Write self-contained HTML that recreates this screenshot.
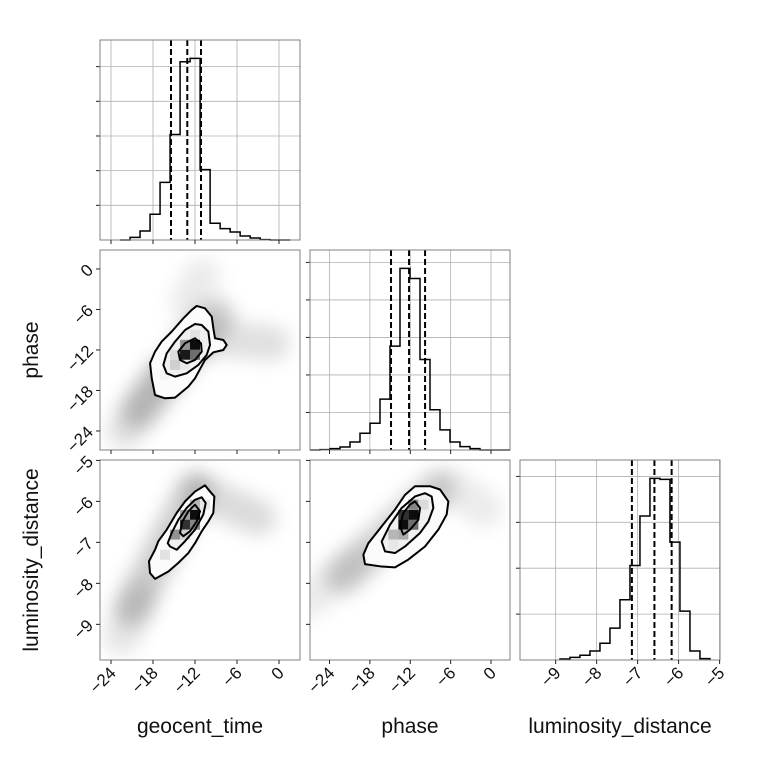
<!DOCTYPE html>
<html><head><meta charset="utf-8"><style>
html,body{margin:0;padding:0;background:#fff;}
svg{display:block;font-family:"Liberation Sans","DejaVu Sans",sans-serif;}
</style></head><body>
<svg id="c" width="760" height="760" viewBox="0 0 760 760">
<defs><filter id="bl" x="-50%" y="-50%" width="200%" height="200%"><feGaussianBlur stdDeviation="9"/></filter></defs>
</svg>
<script>
// ranges
const geoRange=[-25.57,3.0];
const phaseRange=[-26.9,2.82];
const phaseYRange=[-26.82,2.81];
const lumRange=[-9.87,-4.99];
// tick labels
const geoTicks=[-24,-18,-12,-6,0];
const phaseTicks=[-24,-18,-12,-6,0];
const lumTicks=[-9,-8,-7,-6,-5];
// 1D histograms
const geoStart=-22.71, geoWidth=1.43;
const geoCounts=[0,8,27,77,172,315,532,542,210,50,34,24,12,6,1,0,0];
const phaseStart=-26.9, phaseWidth=1.486;
const phaseCounts=[0,1,4,9,24,50,80,152,310,542,512,270,120,60,24,10,4,0,0,0];
const lumStart=-8.895, lumWidth=0.244;
const lumCounts=[3,8,14,27,50,95,180,282,430,542,539,352,146,27,4];
const histMax=597;
const geoQuant=[-15.43,-13.1,-11.14];
const phaseQuant=[-14.86,-12.18,-9.8];
const lumQuant=[-7.14,-6.59,-6.17];
// 2D contours (data coords)
const gpOuterX=[-11.76,-10.57,-9.61,-9.38,-9.14,-7.95,-7.47,-7.95,-9.38,-10.57,-12.0,-12.95,-14.85,-16.28,-17.71,-18.18,-18.42,-17.71,-16.76,-15.33,-13.66,-12.47];
const gpOuterY=[-5.48,-5.83,-7.06,-8.79,-10.27,-10.52,-11.26,-12.0,-12.35,-13.48,-16.2,-17.43,-19.06,-19.16,-18.67,-16.2,-13.97,-12.25,-10.76,-9.28,-7.31,-6.07];
const gpMidX=[-12.0,-11.04,-10.09,-9.85,-10.33,-11.52,-13.19,-14.85,-16.04,-16.52,-16.04,-14.85,-13.42];
const gpMidY=[-8.15,-8.30,-9.28,-11.26,-12.74,-14.22,-15.46,-15.95,-15.46,-14.22,-12.49,-10.76,-9.04];
const gpInX=[-12.0,-11.14,-11.04,-12.0,-13.19,-14.14,-14.38,-13.42];
const gpInY=[-10.27,-11.01,-12.25,-13.48,-13.97,-13.48,-12.25,-11.01];
const glOuterX=[-10.57,-9.85,-9.23,-9.38,-10.09,-11.04,-12.0,-12.95,-14.38,-15.80,-17.71,-18.42,-18.57,-17.71,-17.23,-16.04,-14.61,-13.42,-12.0];
const glOuterY=[-5.61,-5.76,-5.88,-6.28,-6.49,-6.73,-7.02,-7.26,-7.50,-7.71,-7.89,-7.75,-7.46,-7.18,-6.97,-6.69,-6.28,-6.0,-5.76];
const glMidX=[-11.04,-10.47,-10.81,-12.0,-13.42,-14.61,-15.57,-15.90,-15.33,-14.38,-13.19,-12.0];
const glMidY=[-5.90,-6.04,-6.32,-6.69,-6.97,-7.18,-7.10,-7.02,-6.77,-6.45,-6.16,-5.96];
const glInX=[-12.0,-11.28,-11.76,-12.71,-13.66,-14.14,-13.80,-12.95];
const glInY=[-6.08,-6.24,-6.49,-6.73,-6.85,-6.77,-6.49,-6.24];
const plOuterX=[-11.30,-9.07,-7.58,-6.34,-6.59,-7.83,-9.81,-12.29,-14.27,-16.25,-18.73,-18.97,-18.23,-16.25,-14.27,-12.78];
const plOuterY=[-5.63,-5.63,-5.71,-6.0,-6.32,-6.69,-7.10,-7.42,-7.61,-7.59,-7.53,-7.30,-7.02,-6.61,-6.20,-5.84];
const plMidX=[-9.81,-8.82,-8.57,-9.31,-10.55,-12.78,-14.27,-15.75,-16.25,-15.01,-13.28,-11.30];
const plMidY=[-5.80,-5.88,-6.16,-6.49,-6.77,-7.10,-7.26,-7.22,-6.98,-6.57,-6.16,-5.88];
const plInX=[-11.30,-10.55,-10.80,-12.04,-13.03,-13.52,-13.03,-12.04];
const plInY=[-6.0,-6.16,-6.45,-6.69,-6.81,-6.61,-6.28,-6.08];
// 2D histogram peak cells: centre x, centre y, darkness
const gpCellX=[-12.0,-13.42,-12.0,-14.85,-13.42,-12.0,-14.85,-13.42,-16.28];
const gpCellY=[-9.76,-11.24,-11.24,-12.72,-12.72,-12.72,-14.2,-14.2,-15.68];
const gpCellV=[0.12,0.45,1.0,0.15,0.95,0.6,0.2,0.1,0.05];
const glCellX=[-12.0,-10.57,-12.0,-13.42,-13.42,-12.0,-14.85,-13.42,-16.28];
const glCellY=[-6.08,-6.08,-6.33,-6.33,-6.57,-6.57,-6.81,-6.81,-7.30];
const glCellV=[0.3,0.1,1.0,0.4,0.85,0.5,0.45,0.2,0.12];
const plCellX=[-11.54,-10.05,-11.54,-13.03,-13.03,-11.54,-14.52,-13.03,-14.52];
const plCellY=[-6.08,-6.08,-6.33,-6.33,-6.57,-6.57,-6.81,-6.81,-7.06];
const plCellV=[0.5,0.15,1.0,0.85,1.0,0.6,0.3,0.35,0.1];
// scatter cloud density bands: x1,y1,x2,y2 (data), and relative density
const gpCloudX1=[-20,-12,-13,-22], gpCloudY1=[-21,-10,-5,-24], gpCloudX2=[-9,-1,-11,-17], gpCloudY2=[-7,-11,-1,-16], gpCloudD=[0.2,0.12,0.08,0.12];
const glCloudX1=[-21,-11,-22.5], glCloudY1=[-8.6,-5.8,-9.3], glCloudX2=[-12,-3,-20], glCloudY2=[-5.7,-6.4,-8.4], glCloudD=[0.2,0.14,0.1];
const plCloudX1=[-22,-27,-6], plCloudY1=[-7.8,-8.4,-5.6], plCloudX2=[-8,-20,-1], plCloudY2=[-5.7,-7.5,-6.2], plCloudD=[0.18,0.08,0.08];

const svg=document.getElementById('c');
const NS='http://www.w3.org/2000/svg';
function mk(tag,attrs,parent){const e=document.createElementNS(NS,tag);for(const k in attrs)e.setAttribute(k,attrs[k]);(parent||svg).appendChild(e);return e;}
function scale(r,p0,p1){return v=>p0+(v-r[0])/(r[1]-r[0])*(p1-p0);}
const S=200;
function fmt(v){return v<0?'\u2212'+Math.abs(v):String(v);}

function frame(x0,y0,name){
  const r=mk('rect',{x:x0,y:y0,width:S,height:S,fill:'none',stroke:'#808080','stroke-width':1});
  
  
}
function xticks(x0,y0,range,ticks,labels,name){
  const sx=scale(range,x0,x0+S);
  ticks.forEach(t=>{
    const X=sx(t);
    const l=mk('line',{x1:X,x2:X,y1:y0+S,y2:y0+S+4,stroke:'#222','stroke-width':1});
    
    
    if(labels){
      const ax=X+6, ay=y0+S+14;
      const tx=mk('text',{x:ax,y:ay,'font-size':17,'text-anchor':'end',fill:'#111',transform:`rotate(-45 ${ax} ${ay})`});
      tx.textContent=fmt(t);
      
      
    }
  });
}
function yticks(x0,y0,range,ticks,labels,name){
  const sy=scale(range,y0+S,y0);
  ticks.forEach(t=>{
    const Y=sy(t);
    const l=mk('line',{x1:x0-4,x2:x0,y1:Y,y2:Y,stroke:'#222','stroke-width':1});
    
    
    if(labels){
      const ax=x0-10, ay=Y+4;
      const tx=mk('text',{x:ax,y:ay,'font-size':17,'text-anchor':'end',fill:'#111',transform:`rotate(-45 ${ax} ${Y-2})`});
      tx.textContent=fmt(t);
      
      
    }
  });
}
function hist(x0,y0,range,start,width,counts,quant,gridStep,xt,name){
  const sx=scale(range,x0,x0+S), sy=scale([0,histMax],y0+S,y0);
  const g=mk('g',{});
  
  
  xt.forEach(t=>{const X=sx(t);mk('line',{x1:X,x2:X,y1:y0,y2:y0+S,stroke:'#b0b0b0','stroke-width':0.8},g);});
  for(let v=gridStep;v<histMax;v+=gridStep){const Y=sy(v);
    mk('line',{x1:x0,x2:x0+S,y1:Y,y2:Y,stroke:'#b0b0b0','stroke-width':0.8},g);
    const l=mk('line',{x1:x0-4,x2:x0,y1:Y,y2:Y,stroke:'#222','stroke-width':1},g);
    
    
  }
  let d=`M${sx(start)},${sy(0)}`;
  counts.forEach((c,i)=>{const a=sx(start+i*width),b=sx(start+(i+1)*width);d+=` L${a},${sy(c)} L${b},${sy(c)}`;});
  d+=` L${sx(start+counts.length*width)},${sy(0)}`;
  const p=mk('path',{d:d,fill:'none',stroke:'#000','stroke-width':1.5},g);
  
  
  quant.forEach(q=>{const X=sx(q);
    const l=mk('line',{x1:X,x2:X,y1:y0,y2:y0+S,stroke:'#000','stroke-width':2,'stroke-dasharray':'6,3'},g);
    
    
  });
  frame(x0,y0,name+'-hist');
}
function poly(xs,ys,sx,sy){return xs.map((x,i)=>`${sx(x)},${sy(ys[i])}`).join(' ');}
function panel2d(x0,y0,rx,ry,cloud,cont,cells,name){
  const sx=scale(rx,x0,x0+S), sy=scale(ry,y0+S,y0);
  const g=mk('g',{});
  
  
  const cp=mk('clipPath',{id:'cp-'+name},g);
  mk('rect',{x:x0,y:y0,width:S,height:S},cp);
  const inner=mk('g',{'clip-path':`url(#cp-${name})`},g);
  const cg=mk('g',{filter:'url(#bl)'},inner);
  
  
  cloud[0].forEach((x1,i)=>{
    mk('line',{x1:sx(x1),y1:sy(cloud[1][i]),x2:sx(cloud[2][i]),y2:sy(cloud[3][i]),stroke:'#000','stroke-opacity':cloud[4][i],'stroke-width':36,'stroke-linecap':'round'},cg);
  });
  const fills=['#fbfbfb','#f0f0f0','#dcdcdc'];
  cont.forEach((c,i)=>{mk('polygon',{points:poly(c[0],c[1],sx,sy),fill:fills[i],stroke:'none'},inner);});
  const cw=10;
  cells[0].forEach((x,i)=>{const v=cells[2][i];const gv=Math.round(255*(1-v*0.95));
    const r=mk('rect',{x:sx(x)-cw/2,y:sy(cells[1][i])-cw/2,width:cw,height:cw,fill:`rgb(${gv},${gv},${gv})`},inner);
    
    
  });
  cont.forEach((c,i)=>{const p=mk('polygon',{points:poly(c[0],c[1],sx,sy),fill:'none',stroke:'#000','stroke-width':2,'stroke-linejoin':'round'},inner);
    
    
  });
  frame(x0,y0,name);
}
hist(100,40,geoRange,geoStart,geoWidth,geoCounts,geoQuant,103.5,geoTicks,'geocent-time');
xticks(100,40,geoRange,geoTicks,false,'geocent-time-hist');
hist(310,250,phaseRange,phaseStart,phaseWidth,phaseCounts,phaseQuant,112,phaseTicks,'phase');
xticks(310,250,phaseRange,phaseTicks,false,'phase-hist');
hist(520,460,lumRange,lumStart,lumWidth,lumCounts,lumQuant,137,lumTicks,'luminosity-distance');
xticks(520,460,lumRange,lumTicks,true,'luminosity-distance');
panel2d(100,250,geoRange,phaseYRange,[gpCloudX1,gpCloudY1,gpCloudX2,gpCloudY2,gpCloudD],[[gpOuterX,gpOuterY],[gpMidX,gpMidY],[gpInX,gpInY]],[gpCellX,gpCellY,gpCellV],'geocent-phase');
xticks(100,250,geoRange,geoTicks,false,'geocent-phase');
yticks(100,250,phaseYRange,phaseTicks,true,'phase');
panel2d(100,460,geoRange,lumRange,[glCloudX1,glCloudY1,glCloudX2,glCloudY2,glCloudD],[[glOuterX,glOuterY],[glMidX,glMidY],[glInX,glInY]],[glCellX,glCellY,glCellV],'geocent-lum');
xticks(100,460,geoRange,geoTicks,true,'geocent-time');
yticks(100,460,lumRange,lumTicks,true,'luminosity-distance');
panel2d(310,460,phaseRange,lumRange,[plCloudX1,plCloudY1,plCloudX2,plCloudY2,plCloudD],[[plOuterX,plOuterY],[plMidX,plMidY],[plInX,plInY]],[plCellX,plCellY,plCellV],'phase-lum');
xticks(310,460,phaseRange,phaseTicks,true,'phase');
yticks(310,460,lumRange,lumTicks,false,'phase-lum');
</script>
<div style="position:absolute;left:0;top:0;width:760px;height:760px;pointer-events:none;font-family:'Liberation Sans',sans-serif;font-size:21px;color:#111;">
<div style="position:absolute;left:80px;width:240px;top:715px;text-align:center;">geocent_time</div>
<div style="position:absolute;left:290px;width:240px;top:715px;text-align:center;">phase</div>
<div style="position:absolute;left:490px;width:260px;top:715px;text-align:center;">luminosity_distance</div>
<div style="position:absolute;left:-88px;top:338px;width:240px;text-align:center;transform:rotate(-90deg);">phase</div>
<div style="position:absolute;left:-98px;top:548px;width:260px;text-align:center;transform:rotate(-90deg);">luminosity_distance</div>
</div>
</body></html>
